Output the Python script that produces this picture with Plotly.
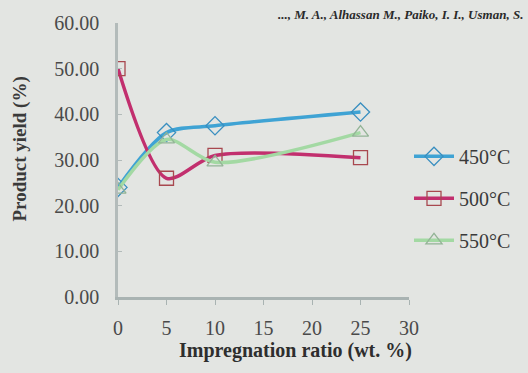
import plotly.graph_objects as go

ratios = [0, 5, 10, 25]
y450 = [24.0, 36.0, 37.5, 40.5]
y500 = [50.0, 26.0, 31.0, 30.5]
y550 = [23.5, 34.5, 29.5, 36.0]
x_ticks = [0, 5, 10, 15, 20, 25, 30]
y_ticks = [0, 10, 20, 30, 40, 50, 60]
y_labels = ["0.00", "10.00", "20.00", "30.00", "40.00", "50.00", "60.00"]

serif = "Liberation Serif"

fig = go.Figure()
series = [
    ("450°C", y450, "#3fa3d4", "diamond-open", "#3a8fc0"),
    ("500°C", y500, "#c22f6e", "square-open", "#a8484f"),
    ("550°C", y550, "#a3d9a3", "triangle-up-open", "#93b496"),
]
for name, ys, lc, sym, mc in series:
    fig.add_trace(go.Scatter(
        x=ratios, y=ys, name=name, legendgroup=name, mode="lines+markers",
        line=dict(color=lc, width=3.5, shape="spline", smoothing=0.8),
        marker=dict(symbol=sym, size=14, color=mc, line=dict(color=mc, width=1.3)),
    ))

fig.update_layout(
    width=528, height=373,
    margin=dict(l=118, r=118, t=17, b=76),
    paper_bgcolor="#e3e5e2", plot_bgcolor="#e3e5e2",
    font=dict(family=serif, size=20, color="#4a4a4a"),
    showlegend=True,
    legend=dict(x=1.0, xanchor="left", y=0.36, yanchor="middle",
                font=dict(family=serif, size=20, color="#3a3a3a"),
                bgcolor="rgba(0,0,0,0)", tracegroupgap=13, itemwidth=40,
                traceorder="grouped"),
    xaxis=dict(range=[0, 30], tickvals=x_ticks, showgrid=False, zeroline=False,
               showline=True, linecolor="#a9b3b2", linewidth=2.5,
               ticks="outside", ticklen=5, tickcolor="#a9b3b2",
               tickfont=dict(family=serif, size=20, color="#4a4a4a"),
               ticklabelstandoff=6),
    yaxis=dict(range=[0, 60], tickvals=y_ticks, ticktext=y_labels, showgrid=False,
               zeroline=False, showline=True, linecolor="#b3bbba", linewidth=2.5,
               ticks="inside", ticklen=4, tickcolor="#b3bbba",
               tickfont=dict(family=serif, size=20, color="#4a4a4a"),
               ticklabelstandoff=12),
    annotations=[
        dict(text="<b>Impregnation ratio (wt. %)</b>", xref="paper", yref="paper",
             x=0.61, y=-0.196, xanchor="center", yanchor="middle", showarrow=False,
             font=dict(family=serif, size=20, color="#2e2e2e")),
        dict(text="<b>Product yield (%)</b>", xref="paper", yref="paper",
             x=-0.335, y=0.54, xanchor="center", yanchor="middle", showarrow=False,
             textangle=-90, font=dict(family=serif, size=19, color="#3a3a3a")),
        dict(text="<b><i>..., M. A., Alhassan M., Paiko, I. I., Usman, S.</i></b>",
             xref="paper", yref="paper", x=1.4, y=1.03, xanchor="right",
             yanchor="middle", showarrow=False,
             font=dict(family=serif, size=13, color="#2a2a2a")),
    ],
)

fig.write_html("out.html")
